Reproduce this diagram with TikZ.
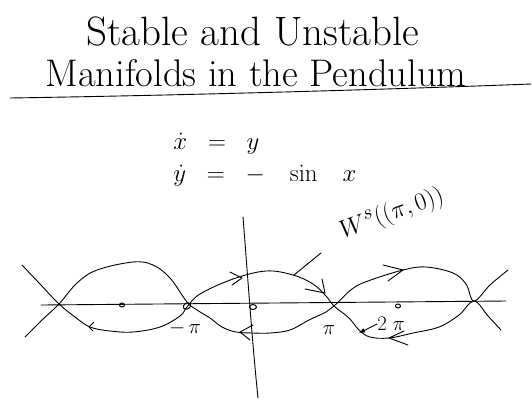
\documentclass[tikz,border=0pt]{standalone}
\usetikzlibrary{arrows.meta}
\begin{document}
\begin{tikzpicture}[x=1pt,y=-1pt,line width=0.9pt,line cap=round,line join=round,
  titlefont/.style={font=\fontsize{41}{46}\selectfont,anchor=base west,inner sep=0pt},
  eqfont/.style={font=\fontsize{34}{38}\selectfont,anchor=base west,inner sep=0pt},
  lbl/.style={font=\fontsize{22}{25}\selectfont,inner sep=0pt},
  chev/.style={line width=0.9pt},
  eqpt/.style={line width=1pt}]
\useasboundingbox (0,0) rectangle (532,400);
% title
\node[titlefont] (t1) at (86,45) {Stable and Unstable};
\node[titlefont,font=\fontsize{38.5}{44}\selectfont] (t2) at (45,86) {Manifolds in the Pendulum};
\draw (10,98) .. controls (200,95) and (400,89) .. (531,84);
% equations
\node[eqfont] (e1) at (173,149) {$\dot{x} \;\;=\;\; y$};
\node[eqfont] (e2) at (173,181) {$\dot{y} \;\;=\;\; -\;\;\;\sin\;\;\; x$};
% axes
\draw (41,305) -- (506,301);
\draw (243,217) .. controls (248,280) and (252,340) .. (258,398);
% saddles
\coordinate (s1) at (59,304);
\coordinate (s2) at (187,306);
\coordinate (s3) at (334,306);
\coordinate (s4) at (474,301);
% curve A
\draw plot[smooth,tension=0.6] coordinates {(25,337) (42,320) (59,304) (77,283) (97,270) (133,262) (153,265) (170,278) (187,302) (197,310) (210,318) (222,327) (236,332) (253,333) (270,333) (290,330) (309,320) (326,312) (334,306) (352,289) (368,281) (403,270) (426,267) (453,273) (466,284) (474,301) (490,285) (508,270)};
% curve B
\draw plot[smooth,tension=0.6] coordinates {(22,265) (40,284) (59,304) (75,317) (90,327) (110,331) (133,332) (160,327) (180,316) (187,307) (200,294) (233,279) (266,271) (293,275) (313,284) (326,296) (334,306) (349,318) (359,330) (370,337) (389,338) (413,333) (439,327) (459,315) (474,301) (488,316) (501,330)};
% fixed points
\draw[eqpt] (122,305) ellipse [x radius=2.5, y radius=2];
\draw[eqpt,rotate around={30:(187,306)}] (187,306) ellipse [x radius=4, y radius=3];
\draw[eqpt] (253,307) ellipse [x radius=3.5, y radius=2.5];
\draw[eqpt] (398,306) ellipse [x radius=2.5, y radius=2];
% direction marks
\draw[chev] (230,272) -- (242,278) -- (232,285);
\draw[chev] (94,322) -- (89,327) -- (93,331);
\draw[chev] (253,325) -- (240,332) -- (250,340);
\draw[chev] (383,265) -- (403,270) -- (388,281);
\draw[chev] (305,289) -- (325,293) -- (322,279);
\draw[chev] (404,331) -- (389,338) -- (408,345);
% labels
\node[lbl] (mpi) at (185,328) {$-\,\pi$};
\node[lbl] (ppi) at (329,330) {$\pi$};
\node[lbl,anchor=west] (tpi) at (377,324) {$2\;\pi$};
\draw[-{Latex[length=6pt,width=5pt]}] (tpi.west) -- (359,333);
\node[font=\fontsize{28}{32}\selectfont,rotate=20,inner sep=0pt] (ws) at (392,214) {$W^{s}((\pi,0))$};
\coordinate (wsend) at (294,275);
\draw (321,253) -- (wsend);
\end{tikzpicture}
\end{document}
